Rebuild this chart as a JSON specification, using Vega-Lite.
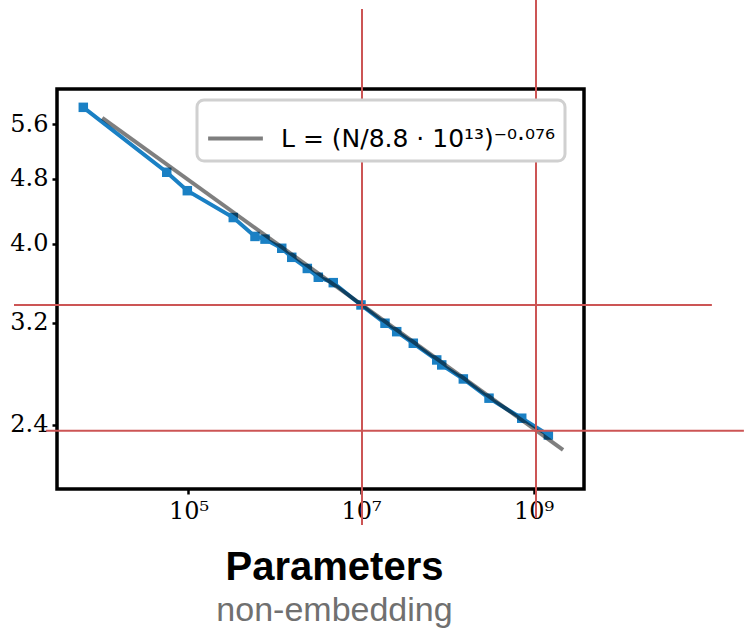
{
  "$schema": "https://vega.github.io/schema/vega-lite/v6.json",
  "width": 527,
  "height": 400,
  "autosize": {"type": "none"},
  "padding": {"left": 57, "top": 89, "right": 160, "bottom": 141},
  "background": "white",
  "datasets": {
    "pts": [
      {"N": 6030, "L": 5.870},
      {"N": 55900, "L": 4.889},
      {"N": 96900, "L": 4.642},
      {"N": 330600, "L": 4.304},
      {"N": 590000, "L": 4.081},
      {"N": 771000, "L": 4.050},
      {"N": 1205000, "L": 3.947},
      {"N": 1574000, "L": 3.848},
      {"N": 2385000, "L": 3.729},
      {"N": 3198000, "L": 3.638},
      {"N": 4770000, "L": 3.583},
      {"N": 10000000, "L": 3.365},
      {"N": 18970000, "L": 3.196},
      {"N": 25940000, "L": 3.121},
      {"N": 40400000, "L": 3.021},
      {"N": 75500000, "L": 2.882},
      {"N": 86300000, "L": 2.842},
      {"N": 153600000, "L": 2.732},
      {"N": 305000000, "L": 2.588},
      {"N": 730000000, "L": 2.446},
      {"N": 1486000000, "L": 2.333}
    ],
    "fit": [
      {"N": 10000, "L": 5.699, "label": "L = (N/8.8 · 10¹³)⁻⁰·⁰⁷⁶"},
      {"N": 2200000000, "L": 2.238, "label": "L = (N/8.8 · 10¹³)⁻⁰·⁰⁷⁶"}
    ],
    "vrules": [
      {"N": 10270000, "Lmin": 1.811, "Lmax": 7.743},
      {"N": 1069000000, "Lmin": 1.847, "Lmax": 7.94}
    ],
    "hrules": [
      {"L": 3.365, "Nmin": 948, "Nmax": 117000000000},
      {"L": 2.362, "Nmin": 2228, "Nmax": 275000000000}
    ]
  },
  "layer": [
    {
      "data": {"name": "pts"},
      "mark": {"type": "line", "color": "#1a80c4", "strokeWidth": 4, "clip": true,
               "point": {"shape": "square", "filled": true, "size": 90, "color": "#1a80c4"}},
      "encoding": {
        "x": {"field": "N", "type": "quantitative",
              "scale": {"type": "log", "domain": [2988, 3850000000], "nice": false},
              "axis": {"values": [100000, 10000000, 1000000000],
                       "labelExpr": "datum.value == 100000 ? '10⁵' : datum.value == 10000000 ? '10⁷' : '10⁹'",
                       "title": null}},
        "y": {"field": "L", "type": "quantitative",
              "scale": {"type": "log", "domain": [2.004, 6.181], "nice": false, "zero": false},
              "axis": {"values": [2.4, 3.2, 4.0, 4.8, 5.6], "format": ".1f", "title": null}}
      }
    },
    {
      "data": {"name": "fit"},
      "mark": {"type": "line", "strokeWidth": 4, "opacity": 0.5, "clip": true},
      "encoding": {
        "x": {"field": "N", "type": "quantitative"},
        "y": {"field": "L", "type": "quantitative"},
        "color": {"field": "label", "type": "nominal",
                  "scale": {"range": ["black"]},
                  "legend": {"title": null, "orient": "none", "legendX": 140, "legendY": 11,
                             "symbolType": "stroke", "symbolSize": 3000, "symbolStrokeWidth": 4,
                             "symbolOpacity": 0.5, "labelFont": "DejaVu Sans", "labelFontSize": 25,
                             "labelColor": "black", "labelLimit": 0, "labelOffset": 16,
                             "padding": 9, "strokeColor": "#d0d0d0",
                             "cornerRadius": 7, "fillColor": "white",
                             "encode": {"legend": {"update": {"strokeWidth": {"value": 3}}}}}}
      }
    },
    {
      "data": {"name": "vrules"},
      "mark": {"type": "rule", "color": "#cc5555", "strokeWidth": 2, "clip": false},
      "encoding": {
        "x": {"field": "N", "type": "quantitative"},
        "y": {"field": "Lmin", "type": "quantitative"},
        "y2": {"field": "Lmax"}
      }
    },
    {
      "data": {"name": "hrules"},
      "mark": {"type": "rule", "color": "#cc5555", "strokeWidth": 2, "clip": false},
      "encoding": {
        "y": {"field": "L", "type": "quantitative"},
        "x": {"field": "Nmin", "type": "quantitative"},
        "x2": {"field": "Nmax"}
      }
    }
  ],
  "title": {
    "text": "Parameters",
    "subtitle": "non-embedding",
    "orient": "bottom",
    "anchor": "middle",
    "dx": 14,
    "offset": 22,
    "font": "Liberation Sans",
    "fontSize": 40,
    "fontWeight": "bold",
    "color": "black",
    "subtitleFont": "Liberation Sans",
    "subtitleFontSize": 34,
    "subtitleFontWeight": "normal",
    "subtitleColor": "#707070",
    "subtitlePadding": 6
  },
  "config": {
    "view": {"stroke": "black", "strokeWidth": 3.5},
    "axis": {
      "domain": false,
      "grid": false,
      "labelFont": "DejaVu Serif",
      "labelFontSize": 24,
      "labelColor": "black",
      "tickColor": "black",
      "tickWidth": 2.5,
      "tickSize": 5
    },
    "axisX": {"labelPadding": 5},
    "axisY": {"labelPadding": 4}
  }
}
